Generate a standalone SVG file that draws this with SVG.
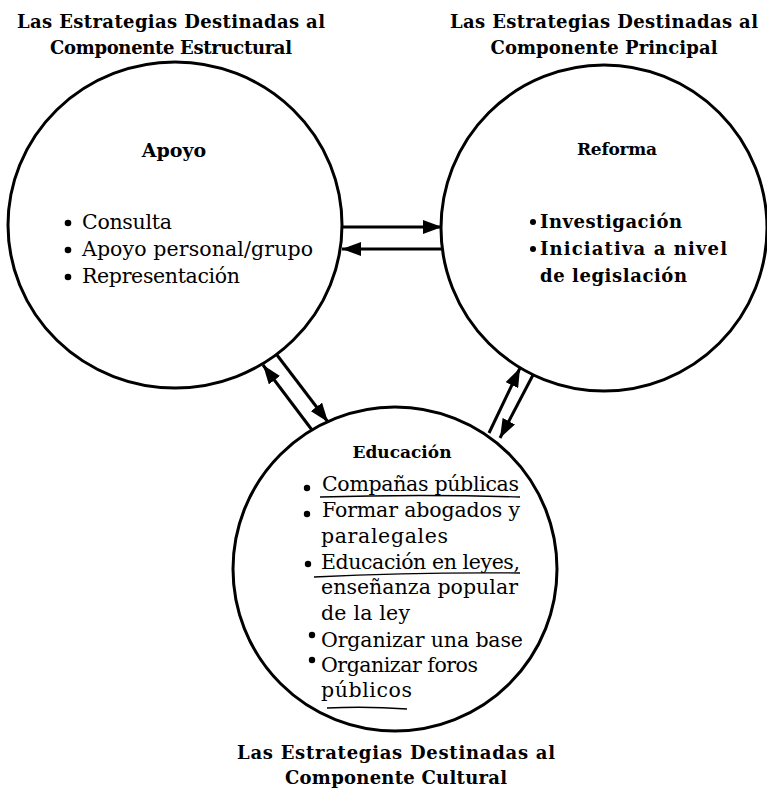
<svg xmlns="http://www.w3.org/2000/svg" width="767" height="790" viewBox="0 0 767 790">
<style>
text{font-family:"DejaVu Serif","Liberation Serif",serif;fill:#000}
.c{fill:none;stroke:#000;stroke-width:3}
.h{font-weight:bold;font-size:18px;text-anchor:middle}
.t{font-weight:bold;font-size:17px;text-anchor:middle}
.t19{font-weight:bold;font-size:19px;text-anchor:middle}
.i{font-size:20.5px}
.b{font-weight:bold;font-size:18px}
.a{stroke:#000;stroke-width:3;fill:none;marker-end:url(#ah)}
.u{stroke:#000;stroke-width:1.4;fill:none}
.d{fill:#000}
</style>
<defs>
<marker id="ah" markerUnits="userSpaceOnUse" markerWidth="20" markerHeight="14" refX="19" refY="7" orient="auto">
<path d="M0,0 L19,7 L0,14 Z" fill="#000"/>
</marker>
</defs>
<g id="label-estructural">
<text class="h" x="171" y="28" textLength="308">Las Estrategias Destinadas al</text>
<text class="h" x="171" y="54" textLength="242">Componente Estructural</text>
</g>
<g id="label-principal">
<text class="h" x="604" y="28" textLength="308">Las Estrategias Destinadas al</text>
<text class="h" x="604" y="54" textLength="227">Componente Principal</text>
</g>
<g id="node-apoyo">
<ellipse class="c" cx="175" cy="225" rx="167" ry="163"/>
<text class="t19" x="174" y="157">Apoyo</text>
<circle class="d" cx="68" cy="223" r="3.3"/>
<circle class="d" cx="68" cy="250" r="3.3"/>
<circle class="d" cx="68" cy="277" r="3.3"/>
<text class="i" x="82" y="229" textLength="90">Consulta</text>
<text class="i" x="82" y="256" textLength="231">Apoyo personal/grupo</text>
<text class="i" x="82" y="283" textLength="158">Representación</text>
</g>
<g id="node-reforma">
<circle class="c" cx="604" cy="228" r="163"/>
<text class="t" x="617" y="155" textLength="80">Reforma</text>
<circle class="d" cx="533" cy="222" r="3"/>
<circle class="d" cx="533" cy="249" r="3"/>
<text class="b" x="540" y="228" textLength="142">Investigación</text>
<text class="b" x="540" y="255" textLength="187">Iniciativa a nivel</text>
<text class="b" x="540" y="282" textLength="147">de legislación</text>
</g>
<g id="node-educacion">
<circle class="c" cx="395" cy="569" r="162"/>
<text class="t" x="402" y="458" textLength="99">Educación</text>
<circle class="d" cx="307" cy="488" r="3.2"/>
<circle class="d" cx="307" cy="514" r="3.2"/>
<circle class="d" cx="308" cy="564" r="3.2"/>
<circle class="d" cx="312" cy="635" r="3.2"/>
<circle class="d" cx="312" cy="660" r="3.2"/>
<text class="i" x="322" y="491" textLength="197">Compañas públicas</text>
<text class="i" x="322" y="517" textLength="198">Formar abogados y</text>
<text class="i" x="321" y="543" textLength="127">paralegales</text>
<text class="i" x="321" y="569" textLength="199">Educación en leyes,</text>
<text class="i" x="321" y="594" textLength="197">enseñanza popular</text>
<text class="i" x="321" y="620" textLength="89">de la ley</text>
<text class="i" x="321" y="647" textLength="202">Organizar una base</text>
<text class="i" x="321" y="672" textLength="157">Organizar foros</text>
<text class="i" x="321" y="697" textLength="91">públicos</text>
<path class="u" d="M320,497 Q420,494 520,497"/>
<path class="u" d="M314,577 Q420,572 520,573"/>
<path class="u" d="M327,708 Q367,706 407,709"/>
</g>
<g id="label-cultural">
<text class="h" x="396" y="759" textLength="318">Las Estrategias Destinadas al</text>
<text class="h" x="396" y="784" textLength="222">Componente Cultural</text>
</g>
<g id="connectors">
<line class="a" x1="341" y1="227" x2="442" y2="227"/>
<line class="a" x1="442" y1="249" x2="342" y2="249"/>
<line class="a" x1="312" y1="430" x2="263" y2="365"/>
<line class="a" x1="277" y1="355" x2="328" y2="422"/>
<line class="a" x1="489" y1="433" x2="520" y2="368"/>
<line class="a" x1="533" y1="375" x2="500" y2="438"/>
</g>
</svg>
